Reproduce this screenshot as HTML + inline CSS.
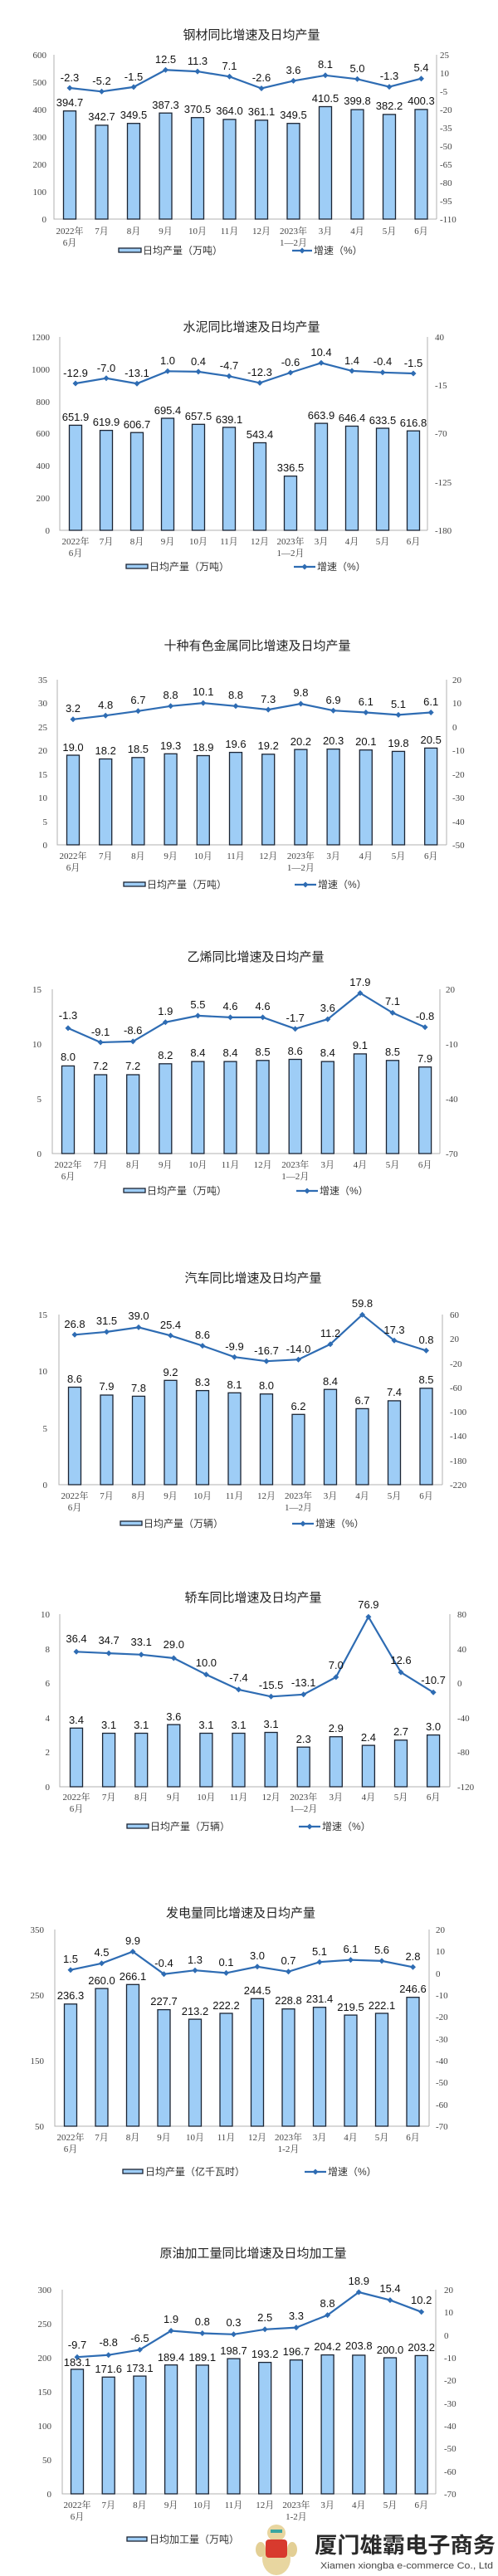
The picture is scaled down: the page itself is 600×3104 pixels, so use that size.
<!DOCTYPE html>
<html><head><meta charset="utf-8"><style>
body{margin:0;background:#fff}
svg{display:block}
.t{font:15px "Liberation Sans","Noto Sans CJK SC",sans-serif;fill:#222;text-anchor:middle}
.d{font:13px "Liberation Sans",sans-serif;fill:#111;text-anchor:middle}
.a{font:11px "Liberation Serif","Noto Serif CJK SC",serif;fill:#444}
.r{text-anchor:end}
.x{text-anchor:middle}
.l{font:12px "Liberation Sans","Noto Sans CJK SC",sans-serif;fill:#333}
.b rect{fill:#9ecdf6;stroke:#1b2433;stroke-width:1.3}
.ax{stroke:#b0b0b0;stroke-width:1;fill:none}
.ln{fill:none;stroke:#2e6cb3;stroke-width:2.2;marker-start:url(#m);marker-mid:url(#m);marker-end:url(#m)}
.lg{fill:none;stroke:#2e6cb3;stroke-width:2.2;marker-mid:url(#m)}
</style></head><body>
<svg width="600" height="3104" viewBox="0 0 600 3104" xmlns="http://www.w3.org/2000/svg">
<defs><marker id="m" markerWidth="8" markerHeight="8" refX="4" refY="4" markerUnits="userSpaceOnUse"><path d="M4 0.5L7.5 4L4 7.5L0.5 4Z" fill="#2e6cb3"/></marker></defs>

<!-- Chart 1 -->
<text class="t" x="303" y="47">钢材同比增速及日均产量</text>
<path class="ax" d="M65 66V264H526M526 66V264"/>
<g class="a r"><text x="56" y="268">0</text><text x="56" y="235">100</text><text x="56" y="202">200</text><text x="56" y="169">300</text><text x="56" y="136">400</text><text x="56" y="103">500</text><text x="56" y="70">600</text></g>
<g class="a"><text x="530" y="70">25</text><text x="530" y="92">10</text><text x="530" y="114">-5</text><text x="530" y="136">-20</text><text x="530" y="158">-35</text><text x="530" y="180">-50</text><text x="530" y="202">-65</text><text x="530" y="224">-80</text><text x="530" y="246">-95</text><text x="530" y="268">-110</text></g>
<g class="b"><rect x="76.5" y="133.7" width="15" height="130.3"/><rect x="115" y="150.9" width="15" height="113.1"/><rect x="153.5" y="148.7" width="15" height="115.3"/><rect x="192" y="136.2" width="15" height="127.8"/><rect x="230.5" y="141.7" width="15" height="122.3"/><rect x="269" y="143.9" width="15" height="120.1"/><rect x="307.5" y="144.8" width="15" height="119.2"/><rect x="346" y="148.7" width="15" height="115.3"/><rect x="384.5" y="128.5" width="15" height="135.5"/><rect x="423" y="132.1" width="15" height="131.9"/><rect x="461.5" y="137.9" width="15" height="126.1"/><rect x="500" y="131.9" width="15" height="132.1"/></g>
<g class="d"><text x="84" y="128">394.7</text><text x="122.5" y="145">342.7</text><text x="161" y="143">349.5</text><text x="199.5" y="131">387.3</text><text x="238" y="136">370.5</text><text x="276.5" y="138">364.0</text><text x="315" y="139">361.1</text><text x="353.5" y="143">349.5</text><text x="392" y="123">410.5</text><text x="430.5" y="126">399.8</text><text x="469" y="132">382.2</text><text x="507.5" y="126">400.3</text></g>
<polyline class="ln" points="84,106 122.5,110.3 161,104.9 199.5,84.3 238,86.1 276.5,92.3 315,106.5 353.5,97.4 392,90.8 430.5,95.3 469,104.6 507.5,94.7"/>
<g class="d"><text x="84" y="98">-2.3</text><text x="122.5" y="102">-5.2</text><text x="161" y="97">-1.5</text><text x="199.5" y="76">12.5</text><text x="238" y="78">11.3</text><text x="276.5" y="84">7.1</text><text x="315" y="98">-2.6</text><text x="353.5" y="89">3.6</text><text x="392" y="82">8.1</text><text x="430.5" y="87">5.0</text><text x="469" y="96">-1.3</text><text x="507.5" y="86">5.4</text></g>
<g class="a x"><text x="84" y="282">2022年</text><text x="84" y="296">6月</text><text x="122.5" y="282">7月</text><text x="161" y="282">8月</text><text x="199.5" y="282">9月</text><text x="238" y="282">10月</text><text x="276.5" y="282">11月</text><text x="315" y="282">12月</text><text x="353.5" y="282">2023年</text><text x="353.5" y="296">1—2月</text><text x="392" y="282">3月</text><text x="430.5" y="282">4月</text><text x="469" y="282">5月</text><text x="507.5" y="282">6月</text></g>
<rect x="143" y="299" width="27" height="5" fill="#9ecdf6" stroke="#1b2433" stroke-width="1.3"/><text class="l" x="172" y="306">日均产量（万吨）</text>
<polyline class="lg" points="352,302 364,302 376,302"/><text class="l" x="378" y="306">增速（%）</text>

<!-- Chart 2 -->
<text class="t" x="303" y="399">水泥同比增速及日均产量</text>
<path class="ax" d="M72 406V639H515M515 406V639"/>
<g class="a r"><text x="60" y="643">0</text><text x="60" y="604">200</text><text x="60" y="565">400</text><text x="60" y="526">600</text><text x="60" y="488">800</text><text x="60" y="449">1000</text><text x="60" y="410">1200</text></g>
<g class="a"><text x="524" y="410">40</text><text x="524" y="468">-15</text><text x="524" y="526">-70</text><text x="524" y="585">-125</text><text x="524" y="643">-180</text></g>
<g class="b"><rect x="83.5" y="512.4" width="15" height="126.6"/><rect x="120.5" y="518.6" width="15" height="120.4"/><rect x="157.5" y="521.2" width="15" height="117.8"/><rect x="194.5" y="504" width="15" height="135"/><rect x="231.5" y="511.3" width="15" height="127.7"/><rect x="268.5" y="514.9" width="15" height="124.1"/><rect x="305.5" y="533.5" width="15" height="105.5"/><rect x="342.5" y="573.7" width="15" height="65.3"/><rect x="379.5" y="510.1" width="15" height="128.9"/><rect x="416.5" y="513.5" width="15" height="125.5"/><rect x="453.5" y="516" width="15" height="123"/><rect x="490.5" y="519.2" width="15" height="119.8"/></g>
<g class="d"><text x="91" y="507">651.9</text><text x="128" y="513">619.9</text><text x="165" y="516">606.7</text><text x="202" y="499">695.4</text><text x="239" y="506">657.5</text><text x="276" y="510">639.1</text><text x="313" y="528">543.4</text><text x="350" y="568">336.5</text><text x="387" y="505">663.9</text><text x="424" y="508">646.4</text><text x="461" y="511">633.5</text><text x="498" y="514">616.8</text></g>
<polyline class="ln" points="91,462 128,455.8 165,462.2 202,447.3 239,447.9 276,453.3 313,461.4 350,449 387,437.3 424,446.9 461,448.8 498,450"/>
<g class="d"><text x="91" y="454">-12.9</text><text x="128" y="448">-7.0</text><text x="165" y="454">-13.1</text><text x="202" y="439">1.0</text><text x="239" y="440">0.4</text><text x="276" y="445">-4.7</text><text x="313" y="453">-12.3</text><text x="350" y="441">-0.6</text><text x="387" y="429">10.4</text><text x="424" y="439">1.4</text><text x="461" y="440">-0.4</text><text x="498" y="442">-1.5</text></g>
<g class="a x"><text x="91" y="656">2022年</text><text x="91" y="670">6月</text><text x="128" y="656">7月</text><text x="165" y="656">8月</text><text x="202" y="656">9月</text><text x="239" y="656">10月</text><text x="276" y="656">11月</text><text x="313" y="656">12月</text><text x="350" y="656">2023年</text><text x="350" y="670">1—2月</text><text x="387" y="656">3月</text><text x="424" y="656">4月</text><text x="461" y="656">5月</text><text x="498" y="656">6月</text></g>
<rect x="152" y="680" width="26" height="5" fill="#9ecdf6" stroke="#1b2433" stroke-width="1.3"/><text class="l" x="180" y="687">日均产量（万吨）</text>
<polyline class="lg" points="354,683 367,683 380,683"/><text class="l" x="382" y="687">增速（%）</text>

<!-- Chart 3 -->
<text class="t" x="310" y="783">十种有色金属同比增速及日均产量</text>
<path class="ax" d="M69 819V1018H538M538 819V1018"/>
<g class="a r"><text x="57" y="1022">0</text><text x="57" y="994">5</text><text x="57" y="965">10</text><text x="57" y="937">15</text><text x="57" y="908">20</text><text x="57" y="880">25</text><text x="57" y="851">30</text><text x="57" y="823">35</text></g>
<g class="a"><text x="545" y="823">20</text><text x="545" y="851">10</text><text x="545" y="880">0</text><text x="545" y="908">-10</text><text x="545" y="937">-20</text><text x="545" y="965">-30</text><text x="545" y="994">-40</text><text x="545" y="1022">-50</text></g>
<g class="b"><rect x="80.5" y="910" width="15" height="108"/><rect x="119.7" y="914.5" width="15" height="103.5"/><rect x="158.9" y="912.8" width="15" height="105.2"/><rect x="198.1" y="908.3" width="15" height="109.7"/><rect x="237.3" y="910.5" width="15" height="107.5"/><rect x="276.5" y="906.6" width="15" height="111.4"/><rect x="315.7" y="908.8" width="15" height="109.2"/><rect x="354.9" y="903.1" width="15" height="114.9"/><rect x="394.1" y="902.6" width="15" height="115.4"/><rect x="433.3" y="903.7" width="15" height="114.3"/><rect x="472.5" y="905.4" width="15" height="112.6"/><rect x="511.7" y="901.4" width="15" height="116.6"/></g>
<g class="d"><text x="88" y="905">19.0</text><text x="127.2" y="909">18.2</text><text x="166.4" y="907">18.5</text><text x="205.6" y="903">19.3</text><text x="244.8" y="905">18.9</text><text x="284" y="901">19.6</text><text x="323.2" y="903">19.2</text><text x="362.4" y="898">20.2</text><text x="401.6" y="897">20.3</text><text x="440.8" y="898">20.1</text><text x="480" y="900">19.8</text><text x="519.2" y="896">20.5</text></g>
<polyline class="ln" points="88,866.8 127.2,862.2 166.4,856.8 205.6,850.8 244.8,847.1 284,850.8 323.2,855.1 362.4,848 401.6,856.2 440.8,858.5 480,861.4 519.2,858.5"/>
<g class="d"><text x="88" y="858">3.2</text><text x="127.2" y="854">4.8</text><text x="166.4" y="848">6.7</text><text x="205.6" y="842">8.8</text><text x="244.8" y="838">10.1</text><text x="284" y="842">8.8</text><text x="323.2" y="847">7.3</text><text x="362.4" y="839">9.8</text><text x="401.6" y="848">6.9</text><text x="440.8" y="850">6.1</text><text x="480" y="853">5.1</text><text x="519.2" y="850">6.1</text></g>
<g class="a x"><text x="88" y="1035">2022年</text><text x="88" y="1049">6月</text><text x="127.2" y="1035">7月</text><text x="166.4" y="1035">8月</text><text x="205.6" y="1035">9月</text><text x="244.8" y="1035">10月</text><text x="284" y="1035">11月</text><text x="323.2" y="1035">12月</text><text x="362.4" y="1035">2023年</text><text x="362.4" y="1049">1—2月</text><text x="401.6" y="1035">3月</text><text x="440.8" y="1035">4月</text><text x="480" y="1035">5月</text><text x="519.2" y="1035">6月</text></g>
<rect x="149" y="1063" width="26" height="5" fill="#9ecdf6" stroke="#1b2433" stroke-width="1.3"/><text class="l" x="177" y="1070">日均产量（万吨）</text>
<polyline class="lg" points="355,1066 368,1066 381,1066"/><text class="l" x="383" y="1070">增速（%）</text>

<!-- Chart 4 -->
<text class="t" x="308" y="1158">乙烯同比增速及日均产量</text>
<path class="ax" d="M63 1192V1390H530M530 1192V1390"/>
<g class="a r"><text x="50" y="1394">0</text><text x="50" y="1328">5</text><text x="50" y="1262">10</text><text x="50" y="1196">15</text></g>
<g class="a"><text x="537" y="1196">20</text><text x="537" y="1262">-10</text><text x="537" y="1328">-40</text><text x="537" y="1394">-70</text></g>
<g class="b"><rect x="74.5" y="1284.4" width="15" height="105.6"/><rect x="113.6" y="1295" width="15" height="95"/><rect x="152.7" y="1295" width="15" height="95"/><rect x="191.8" y="1281.8" width="15" height="108.2"/><rect x="230.9" y="1279.1" width="15" height="110.9"/><rect x="270" y="1279.1" width="15" height="110.9"/><rect x="309.1" y="1277.8" width="15" height="112.2"/><rect x="348.2" y="1276.5" width="15" height="113.5"/><rect x="387.3" y="1279.1" width="15" height="110.9"/><rect x="426.4" y="1269.9" width="15" height="120.1"/><rect x="465.5" y="1277.8" width="15" height="112.2"/><rect x="504.6" y="1285.7" width="15" height="104.3"/></g>
<g class="d"><text x="82" y="1278">8.0</text><text x="121.1" y="1289">7.2</text><text x="160.2" y="1289">7.2</text><text x="199.3" y="1276">8.2</text><text x="238.4" y="1273">8.4</text><text x="277.5" y="1273">8.4</text><text x="316.6" y="1272">8.5</text><text x="355.7" y="1271">8.6</text><text x="394.8" y="1273">8.4</text><text x="433.9" y="1264">9.1</text><text x="473" y="1272">8.5</text><text x="512.1" y="1280">7.9</text></g>
<polyline class="ln" points="82,1238.9 121.1,1256 160.2,1254.9 199.3,1231.8 238.4,1223.9 277.5,1225.9 316.6,1225.9 355.7,1239.7 394.8,1228.1 433.9,1196.6 473,1220.4 512.1,1237.8"/>
<g class="d"><text x="82" y="1228">-1.3</text><text x="121.1" y="1248">-9.1</text><text x="160.2" y="1246">-8.6</text><text x="199.3" y="1223">1.9</text><text x="238.4" y="1215">5.5</text><text x="277.5" y="1217">4.6</text><text x="316.6" y="1217">4.6</text><text x="355.7" y="1231">-1.7</text><text x="394.8" y="1219">3.6</text><text x="433.9" y="1188">17.9</text><text x="473" y="1211">7.1</text><text x="512.1" y="1229">-0.8</text></g>
<g class="a x"><text x="82" y="1407">2022年</text><text x="82" y="1421">6月</text><text x="121.1" y="1407">7月</text><text x="160.2" y="1407">8月</text><text x="199.3" y="1407">9月</text><text x="238.4" y="1407">10月</text><text x="277.5" y="1407">11月</text><text x="316.6" y="1407">12月</text><text x="355.7" y="1407">2023年</text><text x="355.7" y="1421">1—2月</text><text x="394.8" y="1407">3月</text><text x="433.9" y="1407">4月</text><text x="473" y="1407">5月</text><text x="512.1" y="1407">6月</text></g>
<rect x="149" y="1432" width="26" height="5" fill="#9ecdf6" stroke="#1b2433" stroke-width="1.3"/><text class="l" x="177" y="1439">日均产量（万吨）</text>
<polyline class="lg" points="357,1435 370,1435 383,1435"/><text class="l" x="385" y="1439">增速（%）</text>

<!-- Chart 5 -->
<text class="t" x="305" y="1545">汽车同比增速及日均产量</text>
<path class="ax" d="M71 1584V1789H533M533 1584V1789"/>
<g class="a r"><text x="57" y="1793">0</text><text x="57" y="1725">5</text><text x="57" y="1656">10</text><text x="57" y="1588">15</text></g>
<g class="a"><text x="542" y="1588">60</text><text x="542" y="1617">20</text><text x="542" y="1647">-20</text><text x="542" y="1676">-60</text><text x="542" y="1705">-100</text><text x="542" y="1734">-140</text><text x="542" y="1764">-180</text><text x="542" y="1793">-220</text></g>
<g class="b"><rect x="82.5" y="1671.5" width="15" height="117.5"/><rect x="121" y="1681" width="15" height="108"/><rect x="159.5" y="1682.4" width="15" height="106.6"/><rect x="198" y="1663.3" width="15" height="125.7"/><rect x="236.5" y="1675.6" width="15" height="113.4"/><rect x="275" y="1678.3" width="15" height="110.7"/><rect x="313.5" y="1679.7" width="15" height="109.3"/><rect x="352" y="1704.3" width="15" height="84.7"/><rect x="390.5" y="1674.2" width="15" height="114.8"/><rect x="429" y="1697.4" width="15" height="91.6"/><rect x="467.5" y="1687.9" width="15" height="101.1"/><rect x="506" y="1672.8" width="15" height="116.2"/></g>
<g class="d"><text x="90" y="1666">8.6</text><text x="128.5" y="1675">7.9</text><text x="167" y="1677">7.8</text><text x="205.5" y="1658">9.2</text><text x="244" y="1670">8.3</text><text x="282.5" y="1673">8.1</text><text x="321" y="1674">8.0</text><text x="359.5" y="1699">6.2</text><text x="398" y="1669">8.4</text><text x="436.5" y="1692">6.7</text><text x="475" y="1682">7.4</text><text x="513.5" y="1667">8.5</text></g>
<polyline class="ln" points="90,1608.3 128.5,1604.9 167,1599.4 205.5,1609.3 244,1621.6 282.5,1635.2 321,1640.2 359.5,1638.2 398,1619.7 436.5,1584.2 475,1615.3 513.5,1627.4"/>
<g class="d"><text x="90" y="1600">26.8</text><text x="128.5" y="1596">31.5</text><text x="167" y="1590">39.0</text><text x="205.5" y="1601">25.4</text><text x="244" y="1613">8.6</text><text x="282.5" y="1627">-9.9</text><text x="321" y="1632">-16.7</text><text x="359.5" y="1630">-14.0</text><text x="398" y="1611">11.2</text><text x="436.5" y="1575">59.8</text><text x="475" y="1607">17.3</text><text x="513.5" y="1619">0.8</text></g>
<g class="a x"><text x="90" y="1806">2022年</text><text x="90" y="1820">6月</text><text x="128.5" y="1806">7月</text><text x="167" y="1806">8月</text><text x="205.5" y="1806">9月</text><text x="244" y="1806">10月</text><text x="282.5" y="1806">11月</text><text x="321" y="1806">12月</text><text x="359.5" y="1806">2023年</text><text x="359.5" y="1820">1—2月</text><text x="398" y="1806">3月</text><text x="436.5" y="1806">4月</text><text x="475" y="1806">5月</text><text x="513.5" y="1806">6月</text></g>
<rect x="145" y="1833" width="26" height="5" fill="#9ecdf6" stroke="#1b2433" stroke-width="1.3"/><text class="l" x="173" y="1840">日均产量（万辆）</text>
<polyline class="lg" points="352,1836 365,1836 378,1836"/><text class="l" x="380" y="1840">增速（%）</text>

<!-- Chart 6 -->
<text class="t" x="305" y="1930">轿车同比增速及日均产量</text>
<path class="ax" d="M72 1945V2153H542M542 1945V2153"/>
<g class="a r"><text x="60" y="2157">0</text><text x="60" y="2115">2</text><text x="60" y="2074">4</text><text x="60" y="2032">6</text><text x="60" y="1991">8</text><text x="60" y="1949">10</text></g>
<g class="a"><text x="551" y="1949">80</text><text x="551" y="1991">40</text><text x="551" y="2032">0</text><text x="551" y="2074">-40</text><text x="551" y="2115">-80</text><text x="551" y="2157">-120</text></g>
<g class="b"><rect x="84.5" y="2082.3" width="15" height="70.7"/><rect x="123.6" y="2088.5" width="15" height="64.5"/><rect x="162.7" y="2088.5" width="15" height="64.5"/><rect x="201.8" y="2078.1" width="15" height="74.9"/><rect x="240.9" y="2088.5" width="15" height="64.5"/><rect x="280" y="2088.5" width="15" height="64.5"/><rect x="319.1" y="2087.5" width="15" height="65.5"/><rect x="358.2" y="2105.2" width="15" height="47.8"/><rect x="397.3" y="2092.7" width="15" height="60.3"/><rect x="436.4" y="2103.1" width="15" height="49.9"/><rect x="475.5" y="2096.8" width="15" height="56.2"/><rect x="514.6" y="2090.6" width="15" height="62.4"/></g>
<g class="d"><text x="92" y="2077">3.4</text><text x="131.1" y="2083">3.1</text><text x="170.2" y="2083">3.1</text><text x="209.3" y="2073">3.6</text><text x="248.4" y="2083">3.1</text><text x="287.5" y="2083">3.1</text><text x="326.6" y="2082">3.1</text><text x="365.7" y="2100">2.3</text><text x="404.8" y="2087">2.9</text><text x="443.9" y="2098">2.4</text><text x="483" y="2091">2.7</text><text x="522.1" y="2085">3.0</text></g>
<polyline class="ln" points="92,1990.3 131.1,1992.1 170.2,1993.8 209.3,1998 248.4,2017.8 287.5,2035.9 326.6,2044.3 365.7,2041.8 404.8,2020.9 443.9,1948.2 483,2015.1 522.1,2039.3"/>
<g class="d"><text x="92" y="1979">36.4</text><text x="131.1" y="1981">34.7</text><text x="170.2" y="1983">33.1</text><text x="209.3" y="1986">29.0</text><text x="248.4" y="2008">10.0</text><text x="287.5" y="2026">-7.4</text><text x="326.6" y="2035">-15.5</text><text x="365.7" y="2032">-13.1</text><text x="404.8" y="2011">7.0</text><text x="443.9" y="1938">76.9</text><text x="483" y="2005">12.6</text><text x="522.1" y="2029">-10.7</text></g>
<g class="a x"><text x="92" y="2169">2022年</text><text x="92" y="2183">6月</text><text x="131.1" y="2169">7月</text><text x="170.2" y="2169">8月</text><text x="209.3" y="2169">9月</text><text x="248.4" y="2169">10月</text><text x="287.5" y="2169">11月</text><text x="326.6" y="2169">12月</text><text x="365.7" y="2169">2023年</text><text x="365.7" y="2183">1—2月</text><text x="404.8" y="2169">3月</text><text x="443.9" y="2169">4月</text><text x="483" y="2169">5月</text><text x="522.1" y="2169">6月</text></g>
<rect x="153" y="2198" width="26" height="5" fill="#9ecdf6" stroke="#1b2433" stroke-width="1.3"/><text class="l" x="181" y="2205">日均产量（万辆）</text>
<polyline class="lg" points="360,2201 373,2201 386,2201"/><text class="l" x="388" y="2205">增速（%）</text>

<!-- Chart 7 -->
<text class="t" x="290" y="2310">发电量同比增速及日均产量</text>
<path class="ax" d="M66 2325V2562H517M517 2325V2562"/>
<g class="a r"><text x="53" y="2566">50</text><text x="53" y="2487">150</text><text x="53" y="2408">250</text><text x="53" y="2329">350</text></g>
<g class="a"><text x="525" y="2329">20</text><text x="525" y="2355">10</text><text x="525" y="2382">0</text><text x="525" y="2408">-10</text><text x="525" y="2434">-20</text><text x="525" y="2461">-30</text><text x="525" y="2487">-40</text><text x="525" y="2513">-50</text><text x="525" y="2540">-60</text><text x="525" y="2566">-70</text></g>
<g class="b"><rect x="77.5" y="2414.8" width="15" height="147.2"/><rect x="115" y="2396.1" width="15" height="165.9"/><rect x="152.5" y="2391.3" width="15" height="170.7"/><rect x="190" y="2421.6" width="15" height="140.4"/><rect x="227.5" y="2433.1" width="15" height="128.9"/><rect x="265" y="2426" width="15" height="136"/><rect x="302.5" y="2408.3" width="15" height="153.7"/><rect x="340" y="2420.7" width="15" height="141.3"/><rect x="377.5" y="2418.7" width="15" height="143.3"/><rect x="415" y="2428.1" width="15" height="133.9"/><rect x="452.5" y="2426" width="15" height="136"/><rect x="490" y="2406.7" width="15" height="155.3"/></g>
<g class="d"><text x="85" y="2409">236.3</text><text x="122.5" y="2391">260.0</text><text x="160" y="2386">266.1</text><text x="197.5" y="2416">227.7</text><text x="235" y="2428">213.2</text><text x="272.5" y="2421">222.2</text><text x="310" y="2403">244.5</text><text x="347.5" y="2415">228.8</text><text x="385" y="2413">231.4</text><text x="422.5" y="2423">219.5</text><text x="460" y="2421">222.1</text><text x="497.5" y="2401">246.6</text></g>
<polyline class="ln" points="85,2373.7 122.5,2365.8 160,2351.6 197.5,2378.7 235,2374.2 272.5,2377.4 310,2369.8 347.5,2375.8 385,2364.2 422.5,2361.6 460,2362.9 497.5,2370.3"/>
<g class="d"><text x="85" y="2365">1.5</text><text x="122.5" y="2357">4.5</text><text x="160" y="2343">9.9</text><text x="197.5" y="2370">-0.4</text><text x="235" y="2366">1.3</text><text x="272.5" y="2369">0.1</text><text x="310" y="2361">3.0</text><text x="347.5" y="2367">0.7</text><text x="385" y="2356">5.1</text><text x="422.5" y="2353">6.1</text><text x="460" y="2354">5.6</text><text x="497.5" y="2362">2.8</text></g>
<g class="a x"><text x="85" y="2579">2022年</text><text x="85" y="2593">6月</text><text x="122.5" y="2579">7月</text><text x="160" y="2579">8月</text><text x="197.5" y="2579">9月</text><text x="235" y="2579">10月</text><text x="272.5" y="2579">11月</text><text x="310" y="2579">12月</text><text x="347.5" y="2579">2023年</text><text x="347.5" y="2593">1-2月</text><text x="385" y="2579">3月</text><text x="422.5" y="2579">4月</text><text x="460" y="2579">5月</text><text x="497.5" y="2579">6月</text></g>
<rect x="148" y="2614" width="24" height="5" fill="#9ecdf6" stroke="#1b2433" stroke-width="1.3"/><text class="l" x="175" y="2621">日均产量（亿千瓦时）</text>
<polyline class="lg" points="367,2617 380,2617 393,2617"/><text class="l" x="395" y="2621">增速（%）</text>

<!-- Chart 8 -->
<text class="t" x="305" y="2720">原油加工量同比增速及日均加工量</text>
<path class="ax" d="M75 2759V3005H525M525 2759V3005"/>
<g class="a r"><text x="62" y="3009">0</text><text x="62" y="2968">50</text><text x="62" y="2927">100</text><text x="62" y="2886">150</text><text x="62" y="2845">200</text><text x="62" y="2804">250</text><text x="62" y="2763">300</text></g>
<g class="a"><text x="535" y="2763">20</text><text x="535" y="2790">10</text><text x="535" y="2818">0</text><text x="535" y="2845">-10</text><text x="535" y="2872">-20</text><text x="535" y="2900">-30</text><text x="535" y="2927">-40</text><text x="535" y="2954">-50</text><text x="535" y="2982">-60</text><text x="535" y="3009">-70</text></g>
<g class="b"><rect x="85.5" y="2854.9" width="15" height="150.1"/><rect x="123.2" y="2864.3" width="15" height="140.7"/><rect x="160.9" y="2863.1" width="15" height="141.9"/><rect x="198.6" y="2849.7" width="15" height="155.3"/><rect x="236.3" y="2849.9" width="15" height="155.1"/><rect x="274" y="2842.1" width="15" height="162.9"/><rect x="311.7" y="2846.6" width="15" height="158.4"/><rect x="349.4" y="2843.7" width="15" height="161.3"/><rect x="387.1" y="2837.6" width="15" height="167.4"/><rect x="424.8" y="2837.9" width="15" height="167.1"/><rect x="462.5" y="2841" width="15" height="164"/><rect x="500.2" y="2838.4" width="15" height="166.6"/></g>
<g class="d"><text x="93" y="2851">183.1</text><text x="130.7" y="2859">171.6</text><text x="168.4" y="2858">173.1</text><text x="206.1" y="2845">189.4</text><text x="243.8" y="2845">189.1</text><text x="281.5" y="2837">198.7</text><text x="319.2" y="2841">193.2</text><text x="356.9" y="2838">196.7</text><text x="394.6" y="2832">204.2</text><text x="432.3" y="2831">203.8</text><text x="470" y="2836">200.0</text><text x="507.7" y="2833">203.2</text></g>
<polyline class="ln" points="93,2840.2 130.7,2837.7 168.4,2831.4 206.1,2808.5 243.8,2811.5 281.5,2812.8 319.2,2806.8 356.9,2804.6 394.6,2789.6 432.3,2762 470,2771.6 507.7,2785.8"/>
<g class="d"><text x="93" y="2830">-9.7</text><text x="130.7" y="2827">-8.8</text><text x="168.4" y="2822">-6.5</text><text x="206.1" y="2799">1.9</text><text x="243.8" y="2802">0.8</text><text x="281.5" y="2803">0.3</text><text x="319.2" y="2797">2.5</text><text x="356.9" y="2795">3.3</text><text x="394.6" y="2780">8.8</text><text x="432.3" y="2753">18.9</text><text x="470" y="2762">15.4</text><text x="507.7" y="2776">10.2</text></g>
<g class="a x"><text x="93" y="3022">2022年</text><text x="93" y="3036">6月</text><text x="130.7" y="3022">7月</text><text x="168.4" y="3022">8月</text><text x="206.1" y="3022">9月</text><text x="243.8" y="3022">10月</text><text x="281.5" y="3022">11月</text><text x="319.2" y="3022">12月</text><text x="356.9" y="3022">2023年</text><text x="356.9" y="3036">1-2月</text><text x="394.6" y="3022">3月</text><text x="432.3" y="3022">4月</text><text x="470" y="3022">5月</text><text x="507.7" y="3022">6月</text></g>
<rect x="153" y="3057" width="24" height="5" fill="#9ecdf6" stroke="#1b2433" stroke-width="1.3"/><text class="l" x="180" y="3064">日均加工量（万吨）</text>

<!-- logo -->
<g>
<ellipse cx="333" cy="3083" rx="17" ry="20" fill="#e8d6a0"/>
<ellipse cx="333" cy="3052" rx="11" ry="10" fill="#e8d6a0"/>
<rect x="320" y="3060" width="26" height="22" rx="4" fill="#d83a2e"/>
<ellipse cx="314" cy="3072" rx="6" ry="9" fill="#e3cf95"/>
<ellipse cx="352" cy="3072" rx="6" ry="9" fill="#e3cf95"/>
<rect x="326" y="3048" width="14" height="4" fill="#3aa6a0"/>
</g>
<text x="379" y="3076" textLength="218" lengthAdjust="spacingAndGlyphs" style="font:bold 26px 'Noto Sans CJK SC','WenQuanYi Zen Hei',sans-serif;fill:#2a2a2a">厦门雄霸电子商务</text>
<text x="386" y="3095" textLength="208" lengthAdjust="spacingAndGlyphs" style="font:11px 'Liberation Sans',sans-serif;fill:#444">Xiamen xiongba e-commerce Co., Ltd</text>
</svg>
</body></html>
